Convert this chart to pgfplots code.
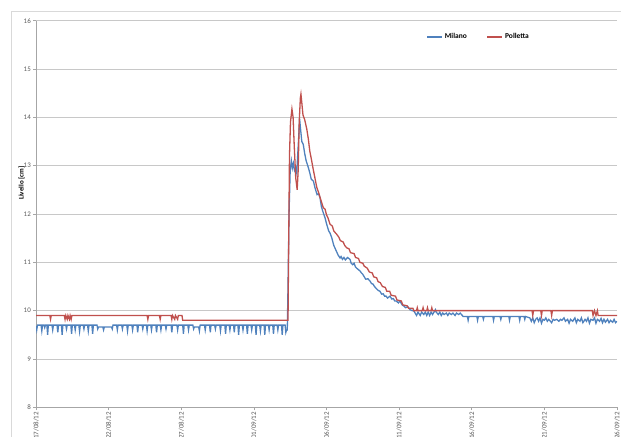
\documentclass[border=0pt]{standalone}
\usepackage{fontspec}
\setmainfont{Carlito}
\usepackage{pgfplots}
\pgfplotsset{compat=1.18}
\definecolor{milano}{HTML}{4F81BD}
\definecolor{polletta}{HTML}{C0504D}
\definecolor{gridc}{HTML}{C8C8C8}
\definecolor{axc}{HTML}{A6A6A6}
\definecolor{tickc}{HTML}{595959}
\definecolor{framec}{HTML}{D9D9D9}
\begin{document}
\begin{tikzpicture}[x=1bp,y=1bp]
\path[use as bounding box] (0,0) rectangle (621,437);
\draw[framec, line width=0.8bp] (11.5,-20) -- (11.5,426) -- (640,426);
\begin{axis}[
  at={(36bp,29.7bp)}, anchor=south west,
  scale only axis, width=581bp, height=386.6bp,
  xmin=0, xmax=40, ymin=8, ymax=16,
  axis lines*=left,
  axis line style={axc, line width=0.6bp},
  tick align=outside, major tick length=3bp,
  tick style={axc, line width=0.6bp},
  ytick={8,9,...,16},
  xtick={0,5,...,40},
  xticklabels={17/08/12,22/08/12,27/08/12,01/09/12,06/09/12,11/09/12,16/09/12,21/09/12,26/09/12},
  ymajorgrids, grid style={gridc, line width=0.6bp},
  /pgf/number format/assume math mode=true,
  tick label style={font=\fontsize{7}{8}\selectfont, text=tickc},
  xticklabel style={rotate=90, anchor=east, inner sep=1.5bp},
  yticklabel style={inner sep=2bp},
  ylabel={\textbf{Livello [cm]}},
  ylabel style={at={(axis description cs:-0.025,0.58)}, anchor=center, font=\fontsize{7}{8}\selectfont},
  legend columns=2,
  legend style={at={(axis description cs:0.672,0.958)}, anchor=west, draw=none, fill=none,
    font=\bfseries\fontsize{7.5}{9}\selectfont, inner sep=0pt,
    /tikz/every even column/.append style={column sep=18bp}},
  legend image code/.code={\draw[#1] (0bp,0bp) -- (15bp,0bp);},
  legend cell align=left,
]
\addplot[milano, line width=1.3bp] coordinates {
(0,9.68)(0.05,9.6)(0.1,9.7)
(0.35,9.7)(0.4,9.58)(0.45,9.7)
(0.55,9.7)(0.6,9.65)(0.65,9.7)
(0.75,9.7)(0.8,9.5)(0.85,9.7)
(1.1,9.7)(1.15,9.6)(1.2,9.7)
(1.45,9.7)(1.5,9.55)(1.55,9.7)
(1.75,9.7)(1.8,9.5)(1.85,9.7)
(2.05,9.7)(2.1,9.62)(2.15,9.7)
(2.4,9.7)(2.45,9.52)(2.5,9.7)
(2.65,9.7)(2.7,9.6)(2.75,9.7)
(2.95,9.7)(3.0,9.57)(3.05,9.7)
(3.25,9.7)(3.3,9.62)(3.35,9.7)
(3.55,9.7)(3.6,9.58)(3.65,9.7)
(3.85,9.7)(3.9,9.52)(3.95,9.7)
(4.2,9.7)(4.25,9.62)(4.3,9.66)(4.6,9.66)(4.65,9.6)(4.7,9.66)(5.2,9.66)(5.25,9.62)(5.3,9.7)
(5.55,9.7)(5.6,9.6)(5.65,9.7)
(5.9,9.7)(5.95,9.62)(6.0,9.7)
(6.25,9.7)(6.3,9.58)(6.35,9.7)
(6.6,9.7)(6.65,9.6)(6.7,9.7)
(6.95,9.7)(7.0,9.55)(7.05,9.7)
(7.3,9.7)(7.35,9.62)(7.4,9.7)
(7.6,9.7)(7.65,9.58)(7.7,9.7)
(7.9,9.7)(7.95,9.6)(8.0,9.7)
(8.25,9.7)(8.3,9.55)(8.35,9.7)
(8.55,9.7)(8.6,9.6)(8.65,9.7)
(8.9,9.7)(8.95,9.62)(9.0,9.7)
(9.3,9.7)(9.35,9.55)(9.4,9.7)
(9.7,9.7)(9.75,9.6)(9.8,9.7)
(10.1,9.7)(10.15,9.52)(10.2,9.7)
(10.45,9.7)(10.5,9.6)(10.55,9.7)
(10.8,9.7)(10.85,9.62)(10.9,9.66)(11.2,9.66)(11.25,9.58)(11.3,9.7)
(11.6,9.7)(11.65,9.6)(11.7,9.7)
(11.95,9.7)(12.0,9.55)(12.05,9.7)
(12.3,9.7)(12.35,9.62)(12.4,9.7)
(12.65,9.7)(12.7,9.58)(12.75,9.7)
(13.0,9.7)(13.05,9.52)(13.1,9.7)
(13.3,9.7)(13.35,9.6)(13.4,9.7)
(13.6,9.7)(13.65,9.55)(13.7,9.7)
(13.9,9.7)(13.95,9.5)(14.0,9.7)
(14.2,9.7)(14.25,9.6)(14.3,9.7)
(14.5,9.7)(14.55,9.52)(14.6,9.7)
(14.8,9.7)(14.85,9.6)(14.9,9.7)
(15.1,9.7)(15.15,9.5)(15.2,9.7)
(15.4,9.7)(15.45,9.58)(15.5,9.7)
(15.7,9.7)(15.75,9.5)(15.8,9.7)
(16.0,9.7)(16.05,9.6)(16.1,9.7)
(16.3,9.7)(16.35,9.52)(16.4,9.7)
(16.6,9.7)(16.65,9.6)(16.7,9.7)
(16.9,9.7)(16.95,9.5)(17.0,9.7)
(17.15,9.7)(17.2,9.55)(17.25,9.6)(17.3,9.6)
(17.35,10.5)(17.42,12.0)(17.5,12.9)(17.58,13.1)(17.65,12.95)(17.72,13.05)(17.8,12.9)(17.88,12.95)(17.95,12.85)
(18.05,13.4)(18.15,13.96)(18.2,13.8)(18.3,13.5)(18.4,13.44)(18.5,13.25)(18.6,13.1)(18.75,12.96)(18.85,12.85)
(18.95,12.72)(19.1,12.68)(19.2,12.55)(19.35,12.4)(19.45,12.42)(19.55,12.34)(19.65,12.15)(19.75,12.05)(19.9,11.92)
(20.0,11.8)(20.15,11.65)(20.25,11.6)(20.36,11.51)(20.5,11.35)(20.65,11.25)(20.8,11.15)(20.93,11.09)(21.0,11.12)
(21.1,11.06)(21.2,11.1)(21.3,11.05)(21.45,11.1)(21.62,11.06)(21.7,10.98)(21.8,10.95)(21.9,10.98)(22.0,10.9)
(22.15,10.86)(22.31,10.82)(22.4,10.78)(22.5,10.75)(22.6,10.7)(22.7,10.65)(22.85,10.66)(23.0,10.61)(23.1,10.56)
(23.2,10.55)(23.3,10.5)(23.45,10.45)(23.55,10.42)(23.68,10.40)(23.8,10.34)(23.9,10.35)(24.0,10.3)(24.1,10.3)
(24.2,10.26)(24.37,10.30)(24.5,10.24)(24.6,10.25)(24.7,10.2)(24.8,10.2)(24.95,10.16)(25.06,10.2)(25.2,10.12)
(25.3,10.1)(25.45,10.06)(25.6,10.08)(25.75,10.02)(25.9,10.0)(26.0,10.0)
(26.1,9.95)(26.2,9.9)(26.3,9.97)(26.45,9.9)(26.55,9.97)(26.7,9.92)(26.8,9.97)(26.9,9.9)(27.0,9.97)(27.1,9.9)
(27.2,9.97)(27.3,9.92)(27.4,9.97)(27.5,10.02)(27.55,9.97)(27.7,9.92)(27.8,9.97)(27.9,9.9)(28.0,9.95)(28.1,9.92)
(28.25,9.95)(28.35,9.9)(28.45,9.95)(28.6,9.92)(28.7,9.95)(28.85,9.9)(28.95,9.95)(29.1,9.92)(29.2,9.95)(29.35,9.9)
(29.4,9.88)(29.7,9.88)(29.75,9.8)(29.8,9.88)(30.35,9.88)(30.4,9.8)(30.45,9.88)(30.75,9.88)(30.8,9.82)(30.85,9.88)
(31.45,9.88)(31.5,9.8)(31.55,9.88)(31.95,9.88)(32.0,9.82)(32.05,9.88)(32.55,9.88)(32.6,9.8)(32.65,9.88)
(33.25,9.88)(33.3,9.8)(33.35,9.88)(33.6,9.88)(33.65,9.82)(33.7,9.88)(34.0,9.85)
(34.1,9.78)(34.2,9.85)(34.3,9.75)(34.4,9.82)(34.5,9.85)(34.6,9.78)(34.7,9.85)(34.8,9.74)(34.9,9.82)(35.0,9.8)
(35.1,9.85)(35.2,9.78)(35.3,9.82)(35.5,9.75)(35.6,9.82)(35.7,9.8)(35.85,9.82)(36.0,9.78)(36.1,9.82)(36.2,9.8)
(36.35,9.85)(36.45,9.78)(36.6,9.82)(36.7,9.74)(36.8,9.82)(36.95,9.78)(37.1,9.85)(37.2,9.75)(37.3,9.82)(37.45,9.78)
(37.55,9.85)(37.65,9.75)(37.8,9.82)(37.9,9.78)(38.0,9.85)(38.1,9.74)(38.2,9.82)(38.35,9.8)(38.45,9.85)(38.55,9.74)
(38.65,9.82)(38.8,9.78)(38.9,9.84)(39.0,9.75)(39.1,9.82)(39.2,9.76)(39.35,9.82)(39.45,9.75)(39.55,9.8)(39.7,9.76)
(39.8,9.82)(39.9,9.75)(40,9.78)
};
\addlegendentry{Milano}
\addplot[polletta, line width=1.3bp] coordinates {
(0,9.9)(0.95,9.9)(1.0,9.82)(1.05,9.9)(1.95,9.9)(2.0,9.82)(2.05,9.9)(2.15,9.82)(2.2,9.9)(2.3,9.82)(2.35,9.9)
(2.42,9.82)(2.47,9.9)(7.65,9.9)(7.7,9.82)(7.75,9.9)(8.5,9.9)(8.55,9.82)(8.6,9.9)(9.3,9.9)(9.35,9.82)(9.4,9.9)
(9.55,9.82)(9.6,9.9)(9.75,9.82)(9.8,9.9)(10.05,9.9)(10.1,9.8)(17.35,9.8)
(17.4,11.5)(17.45,13.2)(17.52,13.9)(17.62,14.17)(17.7,14.0)(17.78,13.4)(17.88,12.75)(17.98,12.5)(18.05,12.9)
(18.12,13.9)(18.2,14.4)(18.24,14.48)(18.3,14.3)(18.38,14.05)(18.5,13.95)(18.64,13.76)(18.75,13.55)(18.85,13.3)
(18.98,13.1)(19.1,12.9)(19.2,12.75)(19.33,12.55)(19.45,12.45)(19.6,12.3)(19.78,12.13)(19.9,12.1)(20.0,11.98)
(20.1,11.92)(20.24,11.79)(20.4,11.75)(20.5,11.65)(20.7,11.58)(20.85,11.52)(20.95,11.45)(21.15,11.42)(21.25,11.35)
(21.39,11.30)(21.55,11.28)(21.65,11.2)(21.9,11.18)(22.0,11.1)(22.2,11.08)(22.3,11.0)(22.5,10.98)(22.6,10.92)
(22.8,10.88)(22.95,10.8)(23.15,10.78)(23.25,10.7)(23.45,10.68)(23.55,10.6)(23.7,10.58)(23.85,10.5)(24.05,10.48)
(24.15,10.4)(24.35,10.4)(24.45,10.32)(24.75,10.3)(24.85,10.22)(25.15,10.2)(25.25,10.12)(25.55,10.1)(25.65,10.05)
(25.95,10.05)(26.0,10.0)(26.2,10.0)(26.25,10.06)(26.3,10.0)(26.6,10.0)(26.65,10.06)(26.7,10.0)(26.9,10.0)
(26.95,10.06)(27.0,10.0)(27.2,10.0)(27.25,10.06)(27.3,10.0)(34.15,10.0)(34.2,9.9)(34.25,10.0)(34.75,10.0)
(34.8,9.9)(34.85,10.0)(35.45,10.0)(35.5,9.9)(35.55,10.0)(38.3,10.0)(38.35,9.9)(38.45,10.0)(38.55,9.9)(38.65,10.0)
(38.7,9.9)(40,9.9)
};
\addlegendentry{Polletta}
\end{axis}
\end{tikzpicture}
\end{document}
